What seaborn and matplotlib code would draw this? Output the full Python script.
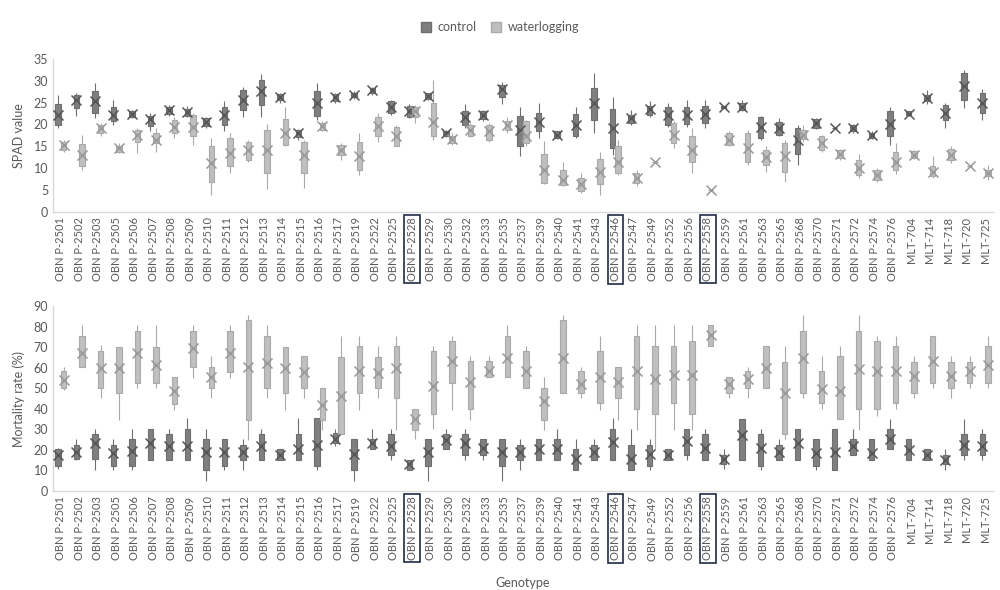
import numpy as np
import pandas as pd
import matplotlib
matplotlib.use('Agg')
import matplotlib.pyplot as plt
import seaborn as sns
from matplotlib.patches import Patch

genotypes = ['OBN P-2501', 'OBN P-2502', 'OBN P-2503', 'OBN P-2505', 'OBN P-2506',
             'OBN P-2507', 'OBN P-2508', 'OBN P-2509', 'OBN P-2510', 'OBN P-2511',
             'OBN P-2512', 'OBN P-2513', 'OBN P-2514', 'OBN P-2515', 'OBN P-2516',
             'OBN P-2517', 'OBN P-2519', 'OBN P-2522', 'OBN P-2525', 'OBN P-2528',
             'OBN P-2529', 'OBN P-2530', 'OBN P-2532', 'OBN P-2533', 'OBN P-2535',
             'OBN P-2537', 'OBN P-2539', 'OBN P-2540', 'OBN P-2541', 'OBN P-2543',
             'OBN P-2546', 'OBN P-2547', 'OBN P-2549', 'OBN P-2552', 'OBN P-2556',
             'OBN P-2558', 'OBN P-2559', 'OBN P-2561', 'OBN P-2563', 'OBN P-2565',
             'OBN P-2568', 'OBN P-2570', 'OBN P-2571', 'OBN P-2572', 'OBN P-2574',
             'OBN P-2576', 'MLT-704', 'MLT-714', 'MLT-718', 'MLT-720', 'MLT-725']
highlighted = ['OBN P-2528', 'OBN P-2546', 'OBN P-2558']

# SPAD value - control (whisker low, Q1, Q3, whisker high, mean)
spad_c_lo = [19.2, 22.0, 21.5, 19.9, 21.5, 18.4, 22.0, 21.7, 19.2, 18.6, 21.8, 21.8, 24.9, 16.5, 21.1,
             24.9, 25.8, 26.8, 22.2, 21.5, 25.6, 17.1, 19.2, 20.9, 24.7, 12.7, 16.9, 16.6, 16.9, 18.0,
             13.1, 19.9, 21.8, 19.5, 19.5, 19.2, 23.7, 23.0, 16.5, 17.3, 10.8, 19.0, 19.0, 18.0, 16.6,
             15.3, 22.0, 24.7, 19.2, 23.7, 21.1]
spad_c_q1 = [19.9, 23.7, 22.6, 20.9, 21.8, 19.7, 22.4, 22.0, 19.7, 19.9, 23.4, 24.5, 25.6, 17.1, 22.0,
             25.3, 26.3, 27.2, 22.6, 21.8, 25.8, 17.3, 19.9, 21.2, 26.4, 15.1, 18.4, 16.9, 17.3, 21.1,
             14.6, 20.3, 22.2, 19.9, 20.2, 20.3, 23.8, 23.4, 16.9, 17.6, 13.3, 19.2, 19.1, 18.4, 16.9,
             17.3, 22.1, 25.3, 21.1, 25.6, 22.6]
spad_c_q3 = [24.7, 26.8, 27.6, 24.0, 23.0, 22.0, 24.1, 23.5, 21.5, 24.1, 27.9, 30.2, 27.0, 18.8, 27.6,
             26.9, 27.3, 28.3, 25.3, 24.3, 27.1, 18.6, 23.2, 23.0, 29.1, 22.0, 22.6, 18.4, 22.4, 28.3,
             23.5, 22.2, 24.3, 24.0, 24.1, 24.3, 24.2, 24.9, 21.8, 20.5, 19.2, 21.2, 19.3, 19.9, 18.1,
             23.0, 23.0, 26.7, 24.5, 31.8, 27.2]
spad_c_hi = [26.8, 27.2, 29.5, 25.6, 23.4, 22.7, 24.5, 24.3, 21.8, 25.3, 28.5, 31.6, 27.2, 19.0, 29.5,
             27.2, 27.6, 28.5, 25.6, 24.7, 27.3, 18.8, 24.7, 23.4, 29.8, 24.1, 24.9, 18.6, 24.1, 31.8,
             26.4, 23.4, 25.3, 24.9, 25.6, 25.6, 24.3, 25.6, 21.9, 21.5, 19.9, 21.5, 19.4, 20.2, 18.6,
             24.1, 23.2, 27.8, 25.0, 32.5, 28.1]
spad_c_mean = [22.2, 25.6, 25.3, 22.2, 22.4, 21.2, 23.4, 22.8, 20.5, 22.2, 25.6, 27.6, 26.4, 18.0, 24.9,
               26.3, 26.8, 27.8, 24.0, 23.1, 26.6, 18.0, 21.7, 22.2, 28.1, 18.8, 20.5, 17.6, 19.9, 24.9,
               19.2, 21.5, 23.5, 22.2, 22.2, 22.4, 24.0, 24.1, 19.5, 19.2, 16.5, 20.3, 19.2, 19.2, 17.6,
               20.2, 22.4, 26.0, 22.6, 28.9, 24.9]

# SPAD value - waterlogging
spad_w_lo = [13.8, 9.5, 17.3, 13.4, 13.4, 13.8, 16.9, 15.3, 3.9, 8.9, 11.5, 5.2, 15.0, 5.4, 18.4,
             11.9, 8.5, 16.1, 15.0, 20.3, 16.5, 15.3, 17.1, 16.1, 18.0, 15.0, 6.4, 5.8, 4.3, 3.9,
             8.5, 6.0, 11.2, 14.6, 8.9, 4.8, 15.0, 10.8, 9.2, 6.9, 16.1, 13.8, 11.9, 7.7, 6.9,
             8.7, 12.1, 7.7, 11.1, 10.3, 7.3]
spad_w_q1 = [14.2, 10.6, 18.0, 13.8, 16.1, 15.7, 18.0, 17.3, 6.9, 10.4, 11.9, 8.9, 15.2, 8.9, 18.8,
             13.1, 9.6, 17.3, 15.1, 21.8, 17.3, 15.7, 17.3, 16.5, 18.8, 15.7, 6.7, 6.2, 4.7, 6.4,
             8.9, 6.7, 11.3, 15.7, 11.4, 4.9, 15.3, 11.4, 10.8, 9.2, 16.6, 14.2, 12.3, 8.5, 7.3,
             9.6, 12.3, 8.1, 11.8, 10.4, 8.1]
spad_w_q3 = [16.1, 15.6, 19.9, 15.1, 18.8, 18.0, 21.1, 22.2, 15.0, 16.9, 16.1, 18.8, 21.2, 16.0, 20.3,
             15.3, 15.9, 21.8, 19.5, 24.1, 25.0, 17.4, 19.9, 19.9, 20.9, 20.7, 13.3, 9.6, 7.7, 12.1,
             15.0, 9.0, 11.5, 20.3, 17.3, 5.1, 18.0, 18.0, 14.2, 15.7, 18.8, 17.3, 14.2, 11.9, 9.5,
             13.7, 13.9, 10.5, 14.4, 10.6, 9.6]
spad_w_hi = [16.5, 17.6, 20.3, 15.7, 19.2, 19.2, 21.7, 22.6, 16.9, 18.0, 16.5, 20.2, 24.1, 16.5, 20.7,
             15.7, 18.0, 22.6, 19.9, 24.5, 30.1, 18.0, 20.3, 20.3, 21.7, 21.1, 16.3, 11.5, 8.9, 13.6,
             16.5, 9.6, 11.6, 20.7, 19.2, 5.2, 18.6, 18.8, 15.0, 16.5, 19.9, 17.6, 14.5, 13.3, 10.0,
             15.7, 14.2, 12.7, 15.0, 10.7, 10.8]
spad_w_mean = [15.2, 13.1, 19.2, 14.6, 17.6, 16.5, 19.5, 19.5, 11.1, 13.4, 14.2, 14.2, 18.0, 13.1, 19.7,
               14.2, 12.7, 19.7, 17.4, 23.0, 20.5, 16.6, 18.8, 18.4, 19.9, 17.3, 9.6, 7.3, 6.3, 9.2,
               11.5, 7.7, 11.4, 17.6, 14.2, 5.0, 16.5, 14.6, 12.5, 12.7, 17.6, 15.7, 13.3, 10.0, 8.5,
               11.5, 13.1, 9.2, 13.1, 10.5, 9.0]

# Mortality rate (%) - control
mort_c_lo = [10.5, 15.0, 10.2, 10.2, 10.2, 15.0, 15.0, 15.0, 4.8, 10.2, 10.2, 15.0, 15.0, 15.0, 10.2,
             21.8, 4.8, 20.2, 15.0, 10.2, 4.8, 20.2, 15.0, 15.0, 4.8, 10.2, 15.0, 15.0, 10.2, 15.0,
             15.0, 10.2, 10.2, 15.0, 15.0, 15.0, 10.5, 15.0, 10.2, 15.0, 15.0, 10.2, 10.2, 17.3, 15.0,
             20.2, 15.0, 15.0, 10.2, 15.0, 15.0]
mort_c_q1 = [12.1, 15.3, 15.3, 12.1, 12.1, 15.0, 15.0, 15.0, 10.2, 12.1, 15.0, 15.0, 15.0, 15.0, 12.1,
             23.4, 10.2, 20.2, 17.3, 10.2, 12.1, 20.2, 17.3, 17.3, 12.1, 15.0, 15.0, 15.0, 10.2, 15.0,
             15.0, 10.2, 12.1, 15.0, 17.3, 15.0, 12.9, 15.0, 12.1, 15.0, 15.0, 12.1, 10.2, 17.3, 15.0,
             20.2, 15.0, 15.0, 12.9, 17.3, 17.3]
mort_c_q3 = [20.2, 22.6, 27.9, 22.6, 25.4, 30.2, 27.9, 30.2, 25.4, 25.4, 22.6, 27.9, 20.2, 27.9, 35.5,
             28.3, 25.4, 25.4, 27.9, 15.0, 25.4, 27.9, 27.9, 25.4, 25.4, 22.6, 25.4, 25.4, 20.2, 22.6,
             30.2, 22.6, 22.6, 20.2, 30.2, 27.9, 17.3, 35.1, 27.9, 22.6, 30.2, 25.4, 30.2, 25.4, 25.4,
             30.2, 25.4, 20.2, 17.3, 27.9, 27.9]
mort_c_hi = [21.0, 25.4, 30.2, 25.4, 30.2, 30.2, 30.2, 35.5, 30.2, 25.4, 25.4, 30.2, 20.2, 35.5, 35.5,
             30.2, 25.4, 30.2, 30.2, 15.0, 25.4, 30.2, 30.2, 25.4, 25.4, 25.4, 25.4, 30.2, 25.4, 25.4,
             35.5, 30.2, 25.4, 20.2, 30.2, 30.2, 20.2, 35.1, 30.2, 25.4, 30.2, 25.4, 30.2, 30.2, 25.4,
             35.1, 25.4, 20.2, 20.2, 35.1, 30.2]
mort_c_mean = [17.3, 18.9, 23.4, 18.3, 19.4, 23.4, 21.8, 22.1, 18.9, 18.9, 18.9, 22.1, 17.3, 20.2, 22.6,
               25.4, 17.8, 23.4, 21.8, 12.9, 18.9, 24.7, 23.4, 21.0, 18.9, 18.9, 20.2, 20.2, 15.3, 18.9,
               23.7, 15.7, 17.8, 17.3, 24.2, 21.0, 15.3, 27.0, 21.0, 18.9, 23.4, 18.6, 18.9, 21.8, 18.3,
               25.4, 19.9, 17.3, 15.0, 22.6, 22.1]

# Mortality rate (%) - waterlogging
mort_w_lo = [49.3, 60.3, 45.2, 34.7, 50.1, 50.1, 39.6, 54.9, 45.2, 55.0, 25.0, 45.2, 39.6, 45.2, 29.9,
             27.9, 39.6, 45.2, 29.9, 25.4, 30.2, 39.6, 34.7, 55.7, 55.4, 50.1, 29.9, 47.7, 45.2, 39.6,
             34.7, 29.9, 20.2, 29.9, 29.9, 70.6, 45.2, 45.2, 50.1, 25.4, 45.2, 39.9, 35.1, 29.9, 36.3,
             39.9, 45.2, 50.1, 45.2, 50.1, 50.1]
mort_w_q1 = [50.1, 60.3, 50.1, 47.7, 52.8, 52.8, 42.5, 60.3, 50.1, 58.0, 34.7, 50.1, 47.7, 50.1, 34.7,
             27.9, 47.7, 50.1, 45.2, 29.9, 37.6, 52.8, 39.9, 55.7, 55.4, 50.1, 34.7, 47.7, 47.7, 42.8,
             45.2, 39.9, 37.6, 42.8, 37.6, 70.6, 47.7, 50.1, 50.1, 27.9, 47.7, 42.8, 35.1, 39.9, 39.9,
             42.8, 47.7, 52.8, 50.1, 52.8, 52.8]
mort_w_q3 = [58.2, 75.4, 68.3, 70.3, 78.0, 70.3, 55.4, 78.0, 60.6, 78.0, 83.2, 75.4, 70.3, 65.8, 50.1,
             65.4, 70.6, 65.4, 70.6, 39.9, 68.3, 73.2, 63.5, 63.5, 75.4, 68.3, 50.1, 83.2, 58.2, 68.3,
             60.6, 75.4, 70.6, 70.6, 73.2, 80.8, 55.4, 58.2, 70.6, 63.0, 78.0, 58.2, 65.8, 78.0, 73.2,
             70.6, 63.0, 75.4, 63.0, 63.0, 70.6]
mort_w_hi = [60.6, 80.8, 71.0, 70.3, 80.8, 80.8, 55.4, 80.8, 65.8, 80.8, 85.6, 80.8, 70.3, 65.8, 50.1,
             75.4, 75.4, 70.6, 75.4, 39.9, 70.6, 75.4, 65.8, 65.8, 80.8, 70.6, 55.4, 85.6, 60.6, 75.4,
             60.6, 80.8, 80.8, 80.8, 80.8, 80.8, 55.4, 60.6, 70.6, 70.6, 85.6, 65.8, 70.6, 85.6, 75.4,
             75.4, 65.8, 75.4, 65.8, 65.8, 75.4]
mort_w_mean = [54.1, 67.0, 59.8, 59.8, 67.0, 61.4, 48.5, 69.5, 55.7, 67.4, 60.6, 62.5, 59.8, 57.7, 42.0,
               46.4, 58.2, 57.4, 59.8, 35.1, 51.2, 63.5, 53.3, 58.6, 64.6, 58.2, 43.6, 64.6, 52.2, 55.7,
               53.3, 58.6, 54.4, 56.5, 56.5, 75.9, 52.2, 54.4, 59.8, 47.7, 64.6, 49.6, 48.5, 59.3, 58.6,
               58.6, 56.1, 63.5, 56.1, 58.6, 61.4]

treatments = ['control', 'waterlogging']
fill = {'control': '#7f7f7f', 'waterlogging': '#bfbfbf'}
edge = {'control': '#6e6e6e', 'waterlogging': '#a9a9a9'}
marker_col = {'control': '#555555', 'waterlogging': '#999999'}
text_col = '#595959'
axis_col = '#d9d9d9'


def five_point(lo, q1, mid, q3, hi, treatment):
    # five values whose quartiles/extremes reproduce the box summary
    rows = []
    for g, vals in zip(genotypes, zip(lo, q1, mid, q3, hi)):
        for v in vals:
            rows.append({'Genotype': g, 'Treatment': treatment, 'value': v})
    return pd.DataFrame(rows)


sns.set_style('white')
plt.rcParams['font.family'] = ['Lato', 'DejaVu Sans']

fig = plt.figure(figsize=(10, 5.9), dpi=100)
ax1 = fig.add_axes([0.053, 0.641, 0.940, 0.259])
ax2 = fig.add_axes([0.053, 0.168, 0.940, 0.313])

panels = [
    (ax1, {'control': (spad_c_lo, spad_c_q1, spad_c_q3, spad_c_hi, spad_c_mean),
           'waterlogging': (spad_w_lo, spad_w_q1, spad_w_q3, spad_w_hi, spad_w_mean)},
     'SPAD value', 35, 5),
    (ax2, {'control': (mort_c_lo, mort_c_q1, mort_c_q3, mort_c_hi, mort_c_mean),
           'waterlogging': (mort_w_lo, mort_w_q1, mort_w_q3, mort_w_hi, mort_w_mean)},
     'Mortality rate (%)', 90, 10),
]

width = 0.6
offsets = {'control': -width / 4, 'waterlogging': width / 4}
xpos = np.arange(len(genotypes))

for ax, series, ylabel, ymax, ystep in panels:
    for t in treatments:
        lo, q1, q3, hi, mean = series[t]
        df = five_point(lo, q1, mean, q3, hi, t)
        sns.boxplot(data=df, x='Genotype', y='value', hue='Treatment',
                    order=genotypes, hue_order=treatments, dodge=True,
                    palette=fill, width=width, gap=0, whis=np.inf,
                    showcaps=False, linewidth=0.8, linecolor=edge[t],
                    medianprops={'color': edge[t], 'linewidth': 0.5},
                    legend=False, ax=ax)
        ax.scatter(xpos + offsets[t], mean, marker='x', s=52,
                   color=marker_col[t], linewidths=1.1, zorder=5)

    ax.set_xlim(-0.42, len(genotypes) - 0.58)
    ax.set_ylim(0, ymax)
    ax.set_yticks(np.arange(0, ymax + 1, ystep))
    ax.set_xlabel('')
    ax.set_ylabel(ylabel, color=text_col, fontsize=9, labelpad=6)
    for s in ['top', 'right']:
        ax.spines[s].set_visible(False)
    for s in ['left', 'bottom']:
        ax.spines[s].set_color(axis_col)
        ax.spines[s].set_linewidth(1)
    ax.tick_params(axis='both', length=0, colors=text_col, labelsize=9)
    ax.tick_params(axis='x', labelsize=8, pad=4)
    ax.set_xticks(xpos)
    ax.set_xticklabels(genotypes, rotation=90, va='top', ha='center')
    for lab in ax.get_xticklabels():
        if lab.get_text() in highlighted:
            lab.set_bbox(dict(boxstyle='square,pad=0.2', fc='none',
                              ec='#1f2b45', lw=1.2))

ax2.set_xlabel('Genotype', color=text_col, fontsize=9, labelpad=12)

handles = [Patch(facecolor=fill[t], edgecolor=edge[t]) for t in treatments]
fig.legend(handles, treatments, loc='center', bbox_to_anchor=(0.5, 0.954),
           ncol=2, frameon=False, fontsize=9, handlelength=0.8, handleheight=0.8,
           handletextpad=0.5, columnspacing=1.2, labelcolor=text_col)

fig.savefig('out.png', dpi=100)
